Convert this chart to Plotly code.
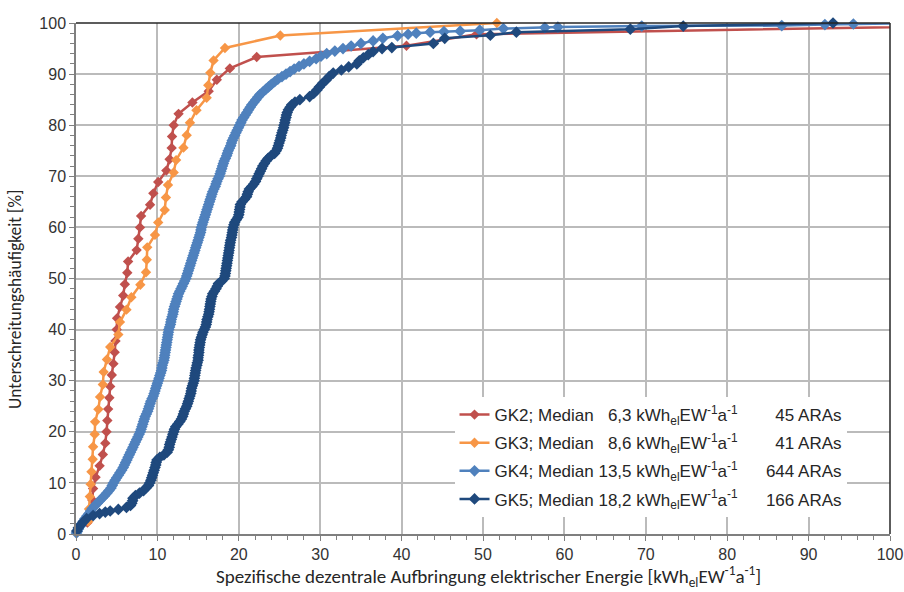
import plotly.graph_objects as go

# --- data: sorted specific energy values [kWh_el EW^-1 a^-1] per size class ---
gk2_x = [1.4, 1.8, 2.0, 2.1, 2.4, 2.9, 3.3, 3.6, 3.75, 3.85, 3.95, 4.1, 4.2, 4.4, 4.6,
         4.75, 4.85, 5.0, 5.05, 5.4, 5.8, 6.0, 6.3, 6.4, 7.45, 7.66, 7.86, 8.0, 9.1, 9.5,
         10.1, 11.1, 11.5, 11.75, 11.8, 12.0, 12.6, 14.3, 16.3, 17.3, 18.9, 22.2, 40.6,
         49.2, 129.0]

gk3_x = [1.5, 1.6, 1.7, 1.8, 1.9, 2.05, 2.1, 2.3, 2.35, 2.75, 2.95, 3.3, 3.4, 3.8, 4.2,
         5.2, 5.4, 6.2, 6.8, 7.9, 8.6, 8.7, 8.75, 9.7, 10.1, 10.9, 11.05, 11.3, 12.0, 12.3,
         13.2, 13.6, 14.0, 14.8, 16.05, 16.25, 16.5, 16.9, 18.3, 25.1, 51.7]

# GK4 (644 plants): cumulative share [%] and value
gk4_pct = [0.2, 0.5, 1, 1.5, 2, 2.5, 3, 3.5, 4, 4.5, 5, 5.5, 6, 6.5, 7, 7.5, 8, 8.5, 9, 9.5,
           10, 10.5, 11, 11.5, 12, 12.5, 13, 13.5, 14, 14.5, 15, 15.5, 16, 16.5, 17, 17.5,
           18, 18.5, 19, 19.5, 20, 20.5, 21, 21.5, 22, 22.5, 23, 23.5, 24, 24.5, 25, 25.5,
           26, 26.5, 27, 27.5, 28, 28.5, 29, 29.5, 30, 30.5, 31, 31.5, 32, 32.5, 33, 33.5,
           34, 34.5, 35, 35.5, 36, 36.5, 37, 37.5, 38, 38.5, 39, 39.5, 40, 40.5, 41, 41.5,
           42, 42.5, 43, 43.5, 44, 44.5, 45, 45.5, 46, 46.5, 47, 47.5, 48, 48.5, 49, 49.5,
           50, 50.5, 51, 51.5, 52, 52.5, 53, 53.5, 54, 54.5, 55, 55.5, 56, 56.5, 57, 57.5,
           58, 58.5, 59, 59.5, 60, 60.5, 61, 61.5, 62, 62.5, 63, 63.5, 64, 64.5, 65, 65.5,
           66, 66.5, 67, 67.5, 68, 68.5, 69, 69.5, 70, 70.5, 71, 71.5, 72, 72.5, 73, 73.5,
           74, 74.5, 75, 75.5, 76, 76.5, 77, 77.5, 78, 78.5, 79, 79.5, 80, 80.5, 81, 81.5,
           82, 82.5, 83, 83.5, 84, 84.5, 85, 85.5, 86, 86.5, 87, 87.5, 88, 88.5, 89, 89.5,
           90, 90.5, 91, 91.5, 92, 92.5, 93, 93.5, 94, 94.5, 95, 95.5, 96, 96.5, 97, 97.5,
           97.8, 98.0, 98.2, 98.3, 98.4, 98.6, 98.9, 99.1, 99.2, 99.4, 99.5, 99.7, 99.8, 100]
gk4_x = [0.05, 0.15, 0.3, 0.5, 0.7, 0.9, 1.1, 1.35, 1.6, 1.8, 2.0, 2.3, 2.6, 2.9, 3.2, 3.5,
         3.8, 4.05, 4.3, 4.45, 4.6, 4.8, 5.0, 5.2, 5.4, 5.6, 5.8, 5.95, 6.1, 6.25, 6.4, 6.55,
         6.7, 6.85, 7.0, 7.15, 7.3, 7.45, 7.6, 7.75, 7.9, 8.0, 8.1, 8.2, 8.3, 8.4, 8.5, 8.65,
         8.8, 8.9, 9.0, 9.1, 9.2, 9.35, 9.5, 9.6, 9.7, 9.8, 9.9, 10.0, 10.1, 10.2, 10.3, 10.4,
         10.5, 10.55, 10.6, 10.7, 10.8, 10.85, 10.9, 10.95, 11.0, 11.05, 11.1, 11.15, 11.2,
         11.25, 11.3, 11.35, 11.4, 11.5, 11.6, 11.65, 11.7, 11.8, 11.9, 11.95, 12.0, 12.1,
         12.2, 12.3, 12.4, 12.5, 12.6, 12.75, 12.9, 13.05, 13.2, 13.35, 13.5, 13.6, 13.7,
         13.8, 13.9, 14.0, 14.1, 14.2, 14.3, 14.4, 14.5, 14.6, 14.7, 14.8, 14.9, 15.0, 15.1,
         15.2, 15.3, 15.35, 15.4, 15.5, 15.6, 15.7, 15.8, 15.9, 16.0, 16.1, 16.2, 16.3, 16.4,
         16.5, 16.6, 16.7, 16.8, 16.95, 17.1, 17.2, 17.3, 17.45, 17.6, 17.7, 17.8, 17.9,
         18.0, 18.1, 18.2, 18.35, 18.5, 18.6, 18.7, 18.85, 19.0, 19.1, 19.2, 19.35, 19.5,
         19.65, 19.8, 19.95, 20.1, 20.25, 20.4, 20.6, 20.8, 21.0, 21.2, 21.4, 21.6, 21.85,
         22.1, 22.35, 22.6, 22.95, 23.3, 23.65, 24.0, 24.4, 24.8, 25.3, 25.8, 26.3, 26.8,
         27.4, 28.0, 28.7, 29.5, 30.1, 30.8, 31.8, 32.8, 33.8, 35.0, 36.5, 37.7, 39.5, 40.8,
         41.8, 43.5, 45.2, 47.2, 49.6, 52.5, 57.6, 59.2, 69.5, 86.7, 92.0, 95.5, 104.0]

# GK5 (166 plants): cumulative share [%] and value
gk5_pct = [0.6, 1.2, 1.8, 2.4, 3.0, 3.6, 4.0, 4.3, 4.5, 4.8, 5.2, 5.6, 6.0, 6.5, 7.0, 7.5,
           8.0, 8.5, 9.0, 9.5, 10, 10.5, 11, 11.5, 12, 12.5, 13, 13.5, 14, 14.5, 15, 15.5,
           16, 16.5, 17, 17.5, 18, 18.5, 19, 19.5, 20, 20.5, 21, 21.5, 22, 22.5, 23, 23.5,
           24, 24.5, 25, 25.5, 26, 26.5, 27, 27.5, 28, 28.5, 29, 29.5, 30, 30.5, 31, 31.5,
           32, 32.5, 33, 33.5, 34, 34.5, 35, 35.5, 36, 36.5, 37, 37.5, 38, 38.5, 39, 39.5,
           40, 40.5, 41, 41.5, 42, 42.5, 43, 43.5, 44, 44.5, 45, 45.5, 46, 46.5, 47, 47.5,
           48, 48.5, 49, 49.5, 50, 50.5, 51, 51.5, 52, 52.5, 53, 53.5, 54, 54.5, 55, 55.5,
           56, 56.5, 57, 57.5, 58, 58.5, 59, 59.5, 60, 60.5, 61, 61.5, 62, 62.5, 63, 63.5,
           64, 64.5, 65, 65.5, 66, 66.5, 67, 67.5, 68, 68.5, 69, 69.5, 70, 70.5, 71, 71.5,
           72, 72.5, 73, 73.5, 74, 74.5, 75, 75.5, 76, 76.5, 77, 77.5, 78, 78.5, 79, 79.5,
           80, 80.5, 81, 81.5, 82, 82.5, 83, 83.5, 84, 84.5, 85, 85.6, 86.2, 86.9, 87.5,
           88.2, 88.8, 89.5, 90.2, 90.8, 91.4, 92.0, 92.6, 93.2, 93.8, 94.4, 95.0, 95.2,
           96.0, 97.0, 97.6, 98.2, 98.8, 99.4, 100]
gk5_x = [0.1, 0.3, 0.6, 0.9, 1.3, 2.1, 2.9, 3.6, 4.2, 5.2, 6.2, 6.7, 6.85, 6.95, 7.0, 7.3,
         7.8, 8.3, 8.6, 8.9, 9.05, 9.2, 9.3, 9.4, 9.5, 9.6, 9.7, 9.8, 9.85, 9.95, 10.3, 10.8,
         11.2, 11.35, 11.45, 11.5, 11.6, 11.7, 11.8, 11.9, 12.0, 12.1, 12.25, 12.5, 12.75,
         12.95, 13.1, 13.2, 13.3, 13.45, 13.6, 13.7, 13.8, 13.9, 14.0, 14.1, 14.15, 14.2,
         14.3, 14.4, 14.5, 14.55, 14.6, 14.65, 14.7, 14.75, 14.85, 14.9, 15.0, 15.0, 15.05,
         15.1, 15.1, 15.15, 15.2, 15.25, 15.3, 15.4, 15.5, 15.6, 15.75, 15.9, 16.0, 16.05,
         16.1, 16.2, 16.3, 16.35, 16.4, 16.45, 16.5, 16.55, 16.6, 16.7, 16.8, 17.0, 17.2,
         17.35, 17.5, 17.9, 18.2, 18.3, 18.35, 18.4, 18.45, 18.5, 18.55, 18.6, 18.65, 18.7,
         18.75, 18.8, 18.85, 18.9, 18.95, 19.0, 19.1, 19.15, 19.2, 19.25, 19.3, 19.4, 19.5,
         19.7, 19.9, 20.0, 20.05, 20.1, 20.15, 20.2, 20.4, 20.7, 20.95, 21.05, 21.15, 21.3,
         21.6, 21.85, 22.05, 22.2, 22.35, 22.5, 22.65, 22.8, 22.95, 23.15, 23.35, 23.6,
         23.95, 24.4, 24.6, 24.75, 24.85, 24.95, 25.05, 25.15, 25.2, 25.3, 25.4, 25.5, 25.55,
         25.65, 25.7, 25.8, 25.85, 25.95, 26.1, 26.3, 26.5, 26.9, 27.5, 28.7, 29.2, 29.6,
         29.9, 30.3, 30.7, 31.1, 31.6, 32.6, 33.5, 34.5, 34.8, 35.3, 35.9, 36.5, 37.6, 38.8,
         43.9, 45.3, 50.9, 54.1, 68.1, 74.6, 93.0]

names = ["GK2", "GK3", "GK4", "GK5"]
medians = ["\u20076,3", "\u20078,6", "13,5", "18,2"]
counts = ["\u200745", "\u200741", "644", "166"]
colors = ["#C0504D", "#F79646", "#4F81BD", "#1F497D"]


def cum_pct(values):
    n = len(values)
    return [100.0 * (i + 1) / n for i in range(n)]


series = [
    (gk2_x, cum_pct(gk2_x), 8),
    (gk3_x, cum_pct(gk3_x), 8),
    (gk4_x, gk4_pct, 9),
    (gk5_x, gk5_pct, 9),
]

unit = "kWh<sub>el</sub>EW<sup>-1</sup>a<sup>-1</sup>"
gap = "\u00a0" * 6

fig = go.Figure()
for (xs, ys, msize), name, med, cnt, col in zip(series, names, medians, counts, colors):
    label = f"{name}; Median {med} {unit}{gap}{cnt} ARAs"
    fig.add_trace(go.Scatter(
        x=xs, y=ys, mode="lines+markers", name=label, legendgroup=name,
        line=dict(color=col, width=2.5),
        marker=dict(symbol="diamond", size=msize, color=col),
        cliponaxis=False,
    ))

grid = "#BBBBBB"
axis_font = dict(family="Liberation Sans, Arial, sans-serif", size=16, color="#333333")
common_axis = dict(
    range=[0, 100], dtick=10, showgrid=True, gridcolor=grid, gridwidth=1.5,
    showline=True, linecolor="#7F7F7F", linewidth=1.5, mirror=False,
    ticks="outside", ticklen=5, tickcolor="#7F7F7F", tickfont=axis_font,
    minor=dict(dtick=2, ticks="outside", ticklen=4, tickcolor="#7F7F7F", showgrid=False),
    zeroline=False, automargin=False,
)

fig.update_layout(
    width=904, height=592,
    margin=dict(l=76, r=14, t=23, b=58, autoexpand=False),
    paper_bgcolor="white", plot_bgcolor="white",
    showlegend=True,
    legend=dict(
        x=0.465, y=0.268, xanchor="left", yanchor="top",
        bgcolor="white", borderwidth=0, traceorder="grouped",
        font=dict(family="Liberation Sans, Arial, sans-serif", size=17, color="#262626"),
        tracegroupgap=3, itemwidth=30,
    ),
    xaxis=common_axis,
    yaxis=common_axis,
    font=dict(family="Liberation Sans, Arial, sans-serif"),
)

# dark frame on the top and right edge of the plot area
fig.add_shape(type="line", xref="paper", yref="paper", x0=0, x1=1, y0=1, y1=1,
              line=dict(color="#262626", width=1.5))
fig.add_shape(type="line", xref="paper", yref="paper", x0=1, x1=1, y0=0, y1=1,
              line=dict(color="#262626", width=1.5))

fig.add_annotation(
    text="Spezifische dezentrale Aufbringung elektrischer Energie [" + unit + "]",
    xref="paper", yref="paper", x=0.507, y=-0.084, xanchor="center", yanchor="middle",
    showarrow=False,
    font=dict(family="Carlito, Liberation Sans Narrow, sans-serif", size=19, color="#262626"),
)
fig.add_annotation(
    text="Unterschreitungshäufigkeit [%]",
    xref="paper", yref="paper", x=-0.075, y=0.46, xanchor="center", yanchor="middle",
    textangle=-90, showarrow=False,
    font=dict(family="Carlito, Liberation Sans Narrow, sans-serif", size=17.5, color="#262626"),
)

fig.write_html("out.html")
